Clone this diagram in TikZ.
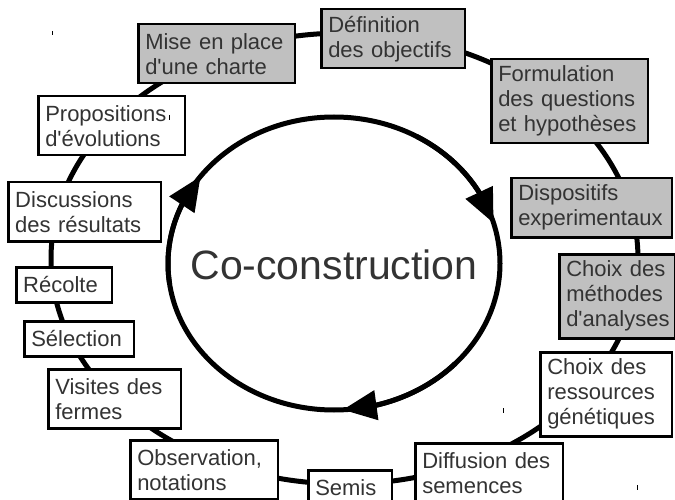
\documentclass[tikz,border=0pt]{standalone}
\usepackage{fontspec}
\setmainfont{Liberation Sans}
\usetikzlibrary{arrows.meta,bending,calc}
\definecolor{grisboite}{RGB}{192,192,192}
\definecolor{texte}{RGB}{51,51,51}

\begin{document}
\begin{tikzpicture}[x=1pt,y=-1pt,
    etape/.style={draw,fill=white,line width=2.5pt,anchor=north west,align=left,
      inner xsep=7pt,inner ysep=0pt,text=texte,font=\fontsize{22}{25}\selectfont},
    grise/.style={fill=grisboite},
    un/.style={minimum height=35pt},
    deux/.style={minimum height=59pt},
    trois/.style={minimum height=84pt},
    ring/.style={line width=5pt},
    fleche/.style={-{Triangle[length=34pt,width=29pt,flex]}},
    trait/.style={line width=1pt}]

  \useasboundingbox (0,0) rectangle (675,500);
  \clip (0,0) rectangle (675,500);

  \coordinate (anneau) at (344.5,258.5);
  \coordinate (cercle) at (334,263.5);

  \draw[ring] (anneau) ellipse [x radius=293.5, y radius=225.5];

  \node[etape,deux,grise,text width=142.5pt] (charte)       at (137,23)  {Mise en place\\d\textquotesingle une charte};
  \node[etape,deux,grise,text width=129.5pt] (objectifs)    at (320,8)   {Définition\\des objectifs};
  \node[etape,trois,grise,text width=142.5pt] (questions)   at (490,58)  {Formulation\\des questions\\et hypothèses};
  \node[etape,deux,grise,text width=146.5pt] (dispositifs)  at (510,177) {Dispositifs\\experimentaux};
  \node[etape,trois,grise,text width=102pt] (methodes)      at (558,253) {Choix des\\méthodes\\d\textquotesingle analyses};
  \node[etape,trois,text width=117.5pt] (ressources)        at (539,351) {Choix des\\ressources\\génétiques};
  \node[etape,deux,text width=133.5pt] (diffusion)          at (414,442) {Diffusion des\\semences};
  \node[etape,un,text width=69.5pt] (semis)                 at (307,469) {Semis};
  \node[etape,deux,text width=133.5pt] (observation)        at (129,439) {Observation,\\notations};
  \node[etape,deux,text width=118.5pt] (visites)            at (47,368)  {Visites des\\fermes};
  \node[etape,un,text width=95.5pt] (selection)             at (23,320)  {Sélection};
  \node[etape,un,text width=81.5pt] (recolte)               at (15,266)  {Récolte};
  \node[etape,deux,text width=138.5pt] (discussions)        at (7,181)   {Discussions\\des résultats};
  \node[etape,deux,text width=132.5pt] (propositions)       at (37,95)   {Propositions\\d\textquotesingle évolutions};

  \draw[ring] (cercle) ellipse [x radius=166, y radius=146.5];
  \draw[ring,fleche] ($(cercle)+(300:166 and 146.5)$) arc[start angle=300,end angle=344,x radius=166,y radius=146.5];
  \draw[ring,fleche] ($(cercle)+(43:166 and 146.5)$) arc[start angle=43,end angle=87,x radius=166,y radius=146.5];
  \draw[ring,fleche] ($(cercle)+(172:166 and 146.5)$) arc[start angle=172,end angle=216.5,x radius=166,y radius=146.5];

  \node[text=texte,font=\fontsize{41}{48}\selectfont] (titre) at (334,265) {Co-construction};

  \draw[trait] (52,31) -- (52,35);
  \draw[trait] (169,115) -- (169,120);
  \draw[trait] (503,408) -- (503,413);
  \draw[trait] (637,485) -- (637,490);
\end{tikzpicture}
\end{document}
